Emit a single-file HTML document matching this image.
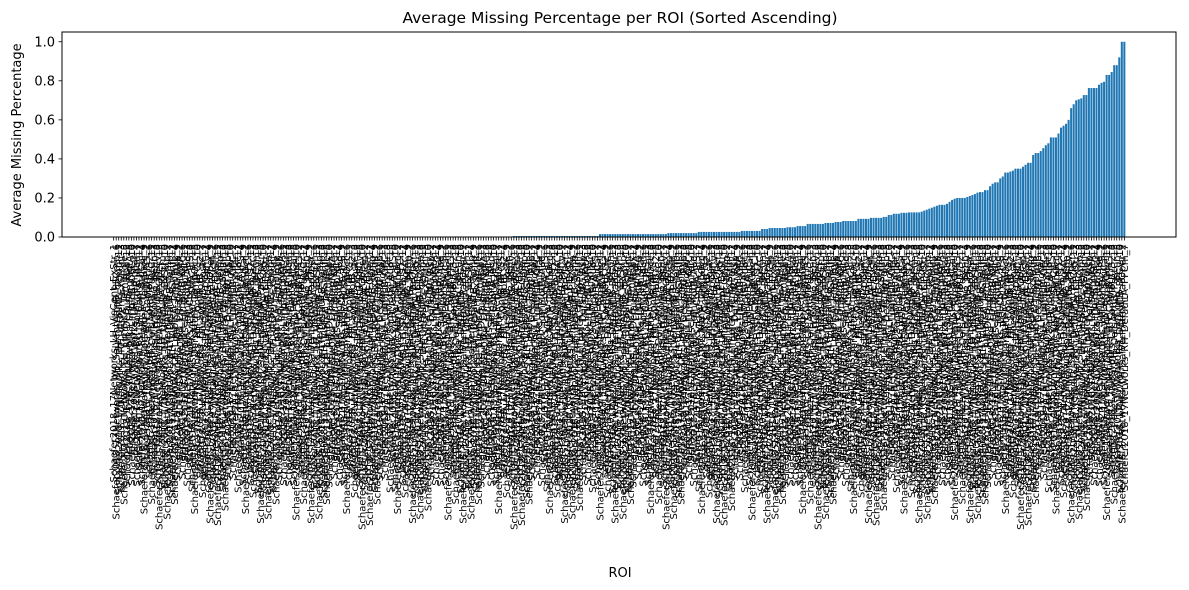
<!DOCTYPE html>
<html><head><meta charset="utf-8"><style>
html,body{margin:0;padding:0;background:#fff;}
svg{display:block;font-family:"DejaVu Sans","Liberation Sans",sans-serif;}
</style></head><body>
<svg id="chart" width="1189" height="590" xmlns="http://www.w3.org/2000/svg">
<text x="620" y="23" font-size="15.5" text-anchor="middle">Average Missing Percentage per ROI (Sorted Ascending)</text>
<text x="620" y="577" font-size="13" text-anchor="middle">ROI</text>
<text transform="translate(21,135) rotate(-90)" font-size="13" text-anchor="middle">Average Missing Percentage</text>
<g id="bars"></g>
<g id="xticks"></g>
<g id="yticks"></g>
<rect x="62" y="32" width="1114" height="205" fill="none" stroke="#000" stroke-width="1"/>
</svg>
<script>
const values = [
0,0,0,0,0,0,0,0,0,0,0,0,0,0,0,0,0,0,0,0,
0,0,0,0,0,0,0,0,0,0,0,0,0,0,0,0,0,0,0,0,
0,0,0,0,0,0,0,0,0,0,0,0,0,0,0,0,0,0,0,0,
0,0,0,0,0,0,0,0,0,0,0,0,0,0,0,0,0,0,0,0,
0,0,0,0,0,0,0,0,0,0,0,0,0,0,0,0,0,0,0,0,
0,0,0,0,0,0,0,0,0,0,0,0,0,0,0,0,0,0,0,0,
0,0,0,0,0,0,0,0,0,0,0,0,0,0,0,0,0,0,0,0,
0,0,0,0,0,0,0,0,0,0,0,0,0,0,0,0,0,0,
0.005,0.005,0.005,0.005,0.005,0.005,0.005,0.005,0.005,0.005,0.005,0.005,0.005,0.005,0.005,0.005,0.005,
0.005,0.005,0.005,0.005,0.005,0.005,0.005,0.005,0.005,0.005,0.005,0.005,0.005,0.005,0.005,0.005,0.005,
0.015,0.015,0.015,0.015,0.015,0.015,0.015,0.015,0.015,0.015,0.015,0.015,0.015,0.015,
0.015,0.015,0.015,0.015,0.015,0.015,0.015,0.015,0.015,0.015,0.015,0.015,0.015,
0.02,0.02,0.02,0.02,0.02,0.02,0.02,0.02,0.02,0.02,0.02,0.02,
0.026,0.026,0.026,0.026,0.026,0.026,0.026,0.026,0.026,0.026,0.026,0.026,0.026,0.026,0.026,0.026,0.026,
0.031,0.031,0.031,0.031,0.031,0.031,0.031,0.031,
0.041,0.041,0.041,
0.046,0.046,0.046,0.046,0.046,0.046,0.046,
0.05,0.05,0.05,0.05,
0.056,0.056,0.056,0.056,
0.067,0.067,0.067,0.067,0.067,0.067,0.067,
0.072,0.072,0.072,0.072,
0.077,0.077,0.077,
0.082,0.082,0.082,0.082,0.082,0.082,
0.093,0.093,0.093,0.093,0.093,
0.098,0.098,0.098,0.098,0.098,
0.103,0.103,0.113,0.113,0.119,0.119,0.119,0.124,0.124,0.124,
0.126,0.126,0.126,0.126,0.126,
0.13,0.135,0.14,0.145,0.15,0.155,0.16,
0.165,0.165,0.165,0.17,0.18,0.19,
0.196,0.2,0.2,0.2,0.2,0.205,0.21,0.215,0.22,
0.227,0.23,0.23,0.24,0.24,0.26,
0.273,0.28,0.28,0.3,0.31,
0.33,0.33,0.335,0.34,
0.35,0.35,0.35,0.36,0.37,
0.38,0.38,
0.42,0.43,0.43,0.44,0.455,
0.47,0.48,
0.51,0.51,0.51,0.53,
0.56,0.57,0.58,
0.6,0.66,0.68,
0.7,0.705,0.71,
0.727,0.727,
0.763,0.763,0.763,0.763,
0.78,0.79,0.795,
0.83,0.83,0.845,
0.88,0.88,0.92,
1.0,1.0
];
const yTickValues = [0, 0.2, 0.4, 0.6, 0.8, 1.0];
const yTickLabels = ["0.0","0.2","0.4","0.6","0.8","1.0"];
const hemis = ["LH","RH"];
const networks = ["VisCent_ExStr","VisPeri_ExStrInf","SomMotA","SomMotB_Aud","DorsAttnA_TempOcc","DorsAttnB_PostC","SalVentAttnA_ParOper","SalVentAttnB_PFCmp","LimbicA_TempPole","LimbicB_OFC","ContA_IPS","ContB_PFCl","ContC_pCun","DefaultA_PFCm","DefaultB_Temp","DefaultC_Rsp","TempPar","VisPeri_StriCal","SomMotB_S2","DefaultB_PFCv"];
const categories = [];
for (let i = 0; i < values.length; i++) {
  categories.push("Schaefer2018_17Networks_" + hemis[(i*3)%2] + "_" + networks[(i*7)%networks.length] + "_" + ((i*5)%13+1));
}

const svgNS = "http://www.w3.org/2000/svg";
const X0 = 62, W = 1114, Y0 = 237, H = 205;
const n = values.length;
const xmin = -0.4 - 0.05*(n-0.2), xmax = n-0.6 + 0.05*(n-0.2);
const yMax = 1.05;
const xScale = v => X0 + (v - xmin) / (xmax - xmin) * W;
const yScale = v => Y0 - v / yMax * H;
const bw = 0.8 * W / (xmax - xmin);

const barsG = document.getElementById('bars');
const xt = document.getElementById('xticks');
values.forEach((v, i) => {
  const cx = xScale(i);
  const r = document.createElementNS(svgNS, 'rect');
  
  
  r.setAttribute('x', cx - bw/2);
  const y = yScale(v);
  r.setAttribute('y', y);
  r.setAttribute('width', bw);
  r.setAttribute('height', Math.max(0, Y0 - y));
  r.setAttribute('fill', '#1f77b4');
  barsG.appendChild(r);
  const t = document.createElementNS(svgNS, 'line');
  
  
  t.setAttribute('x1', cx); t.setAttribute('x2', cx);
  t.setAttribute('y1', Y0); t.setAttribute('y2', Y0 + 3.5);
  t.setAttribute('stroke', '#000'); t.setAttribute('stroke-width', '0.8');
  xt.appendChild(t);
  const lb = document.createElementNS(svgNS, 'text');
  
  
  lb.setAttribute('transform', 'translate(' + (cx + 3.5) + ',' + (Y0 + 7) + ') rotate(-90)');
  lb.setAttribute('text-anchor', 'end');
  lb.setAttribute('font-size', '10');
  lb.textContent = categories[i];
  xt.appendChild(lb);
});

const yt = document.getElementById('yticks');
yTickValues.forEach((v, i) => {
  const y = yScale(v);
  const l = document.createElementNS(svgNS, 'line');
  
  
  l.setAttribute('x1', X0 - 3.5); l.setAttribute('x2', X0);
  l.setAttribute('y1', y); l.setAttribute('y2', y);
  l.setAttribute('stroke', '#000'); l.setAttribute('stroke-width', '0.8');
  yt.appendChild(l);
  const tx = document.createElementNS(svgNS, 'text');
  
  
  tx.setAttribute('x', X0 - 7); tx.setAttribute('y', y + 4.5);
  tx.setAttribute('text-anchor', 'end');
  tx.setAttribute('font-size', '13');
  tx.textContent = yTickLabels[i];
  yt.appendChild(tx);
});
</script>
</body></html>
